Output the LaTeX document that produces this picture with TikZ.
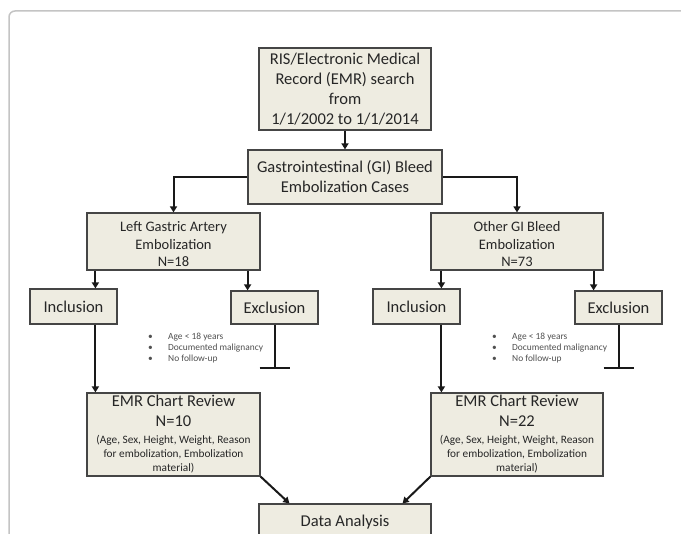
\documentclass[tikz,border=0pt]{standalone}
\usepackage{fontspec}
\setmainfont{Carlito}
\usetikzlibrary{arrows.meta,calc}
\definecolor{boxfill}{HTML}{EEECE1}
\definecolor{boxline}{HTML}{454545}
\definecolor{txt}{HTML}{262626}
\definecolor{smalltxt}{HTML}{505050}
\definecolor{framec}{HTML}{C4C4C4}
\newcommand{\fsz}[2]{\fontsize{#1}{#2}\selectfont}
\newcommand{\sm}{\fsz{11.3}{13.5}}
\newcommand{\bul}{\makebox[20pt][l]{•}}
\tikzset{
  flowbox/.style={draw=boxline, fill=boxfill, line width=1.2pt, inner sep=0pt,
    align=center, text=txt, font=\fsz{16.5}{20}},
  midbox/.style={flowbox, font=\fsz{14.5}{17.5}},
  arr/.style={draw=black!90, line width=2pt, -{Triangle[length=6pt,width=7pt]}},
  plainline/.style={draw=black!90, line width=2pt},
  notes/.style={align=left, text=smalltxt, font=\fsz{9.4}{11}, inner sep=0pt, anchor=west}
}
\begin{document}
\begin{tikzpicture}[x=1pt,y=-1pt]
\useasboundingbox (0,0) rectangle (681,534);
\clip (0,0) rectangle (681,534);
\fill[white] (0,0) rectangle (681,534);
% frame
\draw[framec, line width=1.5pt, rounded corners=6pt] (9,560) -- (9,11) -- (700,11);

\node[flowbox, minimum width=172pt, minimum height=82pt] (top) at (345,89)
  {RIS/Electronic Medical\\Record (EMR) search\\from\\1/1/2002 to 1/1/2014};
\node[flowbox, minimum width=194pt, minimum height=54pt] (gi) at (345,177)
  {Gastrointestinal (GI) Bleed\\Embolization Cases};
\node[midbox, minimum width=173pt, minimum height=57pt] (lga) at (173.5,241.5)
  {\rule{0pt}{16pt}Left Gastric Artery\\Embolization\\N=18};
\node[midbox, minimum width=172pt, minimum height=57pt] (ogi) at (517,241.5)
  {\rule{0pt}{16pt}Other GI Bleed\\Embolization\\N=73};
\node[flowbox, minimum width=87pt, minimum height=35pt] (inc1) at (73.5,306.5) {Inclusion};
\node[flowbox, minimum width=87pt, minimum height=33pt] (exc1) at (274.5,307.5) {Exclusion};
\node[flowbox, minimum width=87pt, minimum height=35pt] (inc2) at (416.5,306.5) {Inclusion};
\node[flowbox, minimum width=87pt, minimum height=33pt] (exc2) at (618.5,307.5) {Exclusion};
\node[flowbox, minimum width=173pt, minimum height=83pt] (emr1) at (173.5,434.5)
  {EMR Chart Review\\N=10\\[-3pt]\sm (Age, Sex, Height, Weight, Reason\\[-6pt]\sm for embolization, Embolization\\[-6pt]\sm material)};
\node[flowbox, minimum width=172pt, minimum height=83pt] (emr2) at (517,434.5)
  {EMR Chart Review\\N=22\\[-3pt]\sm (Age, Sex, Height, Weight, Reason\\[-6pt]\sm for embolization, Embolization\\[-6pt]\sm material)};
\node[flowbox, minimum width=172pt, minimum height=36pt] (da) at (345,522) {Data Analysis};

\node[notes] (notes1) at (148,348)
  {\bul Age < 18 years\\\bul Documented malignancy\\\bul No follow-up};
\node[notes] (notes2) at (492,348)
  {\bul Age < 18 years\\\bul Documented malignancy\\\bul No follow-up};

% connectors
\draw[arr] (top.south) -- (gi.north);
\draw[arr] (gi.west) -| (lga.north);
\draw[arr] (gi.east) -| (ogi.north);

\draw[arr] ([xshift=9pt]lga.south west) coordinate (l1) -- (l1 |- inc1.north);
\draw[arr] ([xshift=-13pt]lga.south east) coordinate (l2) -- (l2 |- exc1.north);
\draw[arr] ([xshift=11pt]ogi.south west) coordinate (r1) -- (r1 |- inc2.north);
\draw[arr] ([xshift=-10pt]ogi.south east) coordinate (r2) -- (r2 |- exc2.north);

\draw[arr] (l1 |- inc1.south) -- (l1 |- emr1.north);
\draw[arr] (r1 |- inc2.south) -- (r1 |- emr2.north);

\draw[plainline] (exc1.south) -- ++(0,43) coordinate (t1);
\draw[plainline] ([xshift=-15pt]t1) -- ([xshift=15pt]t1);
\draw[plainline] (exc2.south) -- ++(0,43) coordinate (t2);
\draw[plainline] ([xshift=-15pt]t2) -- ([xshift=15pt]t2);

\draw[arr] (emr1.south east) -- ([xshift=31pt]da.north west);
\draw[arr] (emr2.south west) -- ([xshift=-29pt]da.north east);
\end{tikzpicture}
\end{document}
